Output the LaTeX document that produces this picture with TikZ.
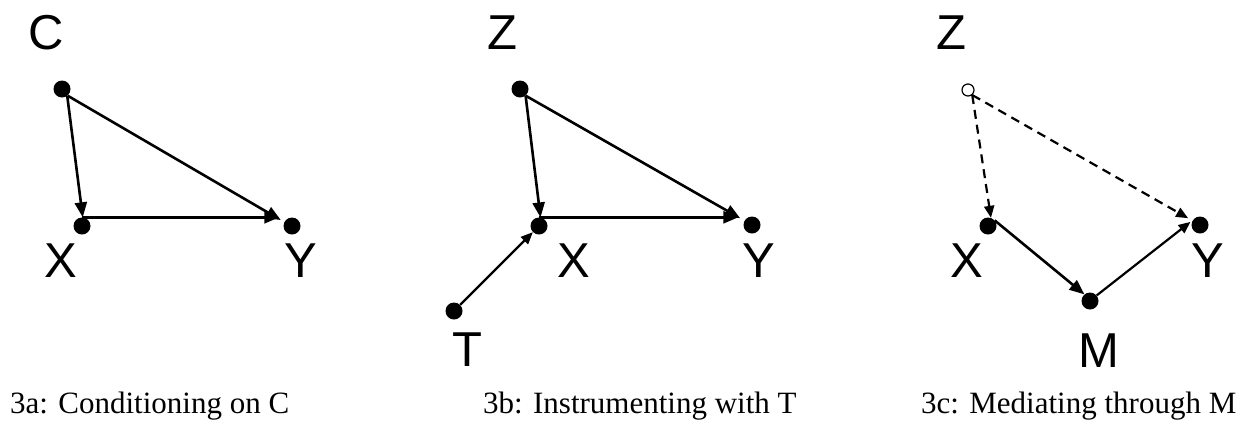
\documentclass[tikz,border=0pt]{standalone}
\usepackage{fontspec}
\setmainfont{Liberation Serif}
\newfontfamily\labfont{Liberation Sans}
\usetikzlibrary{arrows.meta}
\begin{document}
\begin{tikzpicture}[x=1pt,y=-1pt,
 dot/.style={circle,fill=black,inner sep=0pt,minimum size=17pt},
 odot/.style={circle,draw=black,line width=1.2pt,fill=white,inner sep=0pt,minimum size=12pt},
 lab/.style={font=\labfont\fontsize{49}{51}\selectfont,inner sep=0pt,anchor=base},
 captxt/.style={font=\fontsize{31}{34}\selectfont,inner sep=0pt,anchor=base west},
 arr/.style={line width=2.6pt,-{Triangle[length=15pt,width=12pt]}},
 sarr/.style={line width=2.2pt,-{Triangle[length=12pt,width=10pt]}},
 darr/.style={line width=2.2pt,dash pattern=on 9pt off 6pt,-{Triangle[length=12pt,width=10pt]}},
]
\useasboundingbox (0,0) rectangle (1249,421);
% panel a
\node[dot] (ca) at (62,89) {};
\node[dot] (xa) at (82,226) {};
\node[dot] (ya) at (292,226) {};
\node[lab] (lca) at (46,49) {C};
\node[lab] (lxa) at (61,277) {X};
\node[lab] (lya) at (301,277) {Y};
\draw[arr] (ca.-53) -- (xa.85);
\draw[arr,shorten >=4pt] (ca.-50) -- (ya.153);
\draw[arr,shorten >=4pt] (xa.north) -- (xa.north -| ya.west);
% panel b
\node[dot] (zb) at (520,89) {};
\node[dot] (xb) at (539,226) {};
\node[dot] (yb) at (752,225) {};
\node[dot] (tb) at (454,311) {};
\node[lab] (lzb) at (502,49) {Z};
\node[lab] (lxb) at (574,277) {X};
\node[lab] (lyb) at (759,277) {Y};
\node[lab] (ltb) at (467,366) {T};
\draw[arr] (zb.-50) -- (xb.80);
\draw[arr,shorten >=5pt] (zb.-50) -- (yb.150);
\draw[arr,shorten >=5pt] (xb.north) -- (xb.north -| yb.west);
\draw[sarr] (tb) -- (xb);
% panel c
\node[odot] (zc) at (968,90) {};
\node[dot] (xc) at (988,226) {};
\node[dot] (yc) at (1200,225) {};
\node[dot] (mc) at (1090,301) {};
\node[lab] (lzc) at (951,49) {Z};
\node[lab] (lxc) at (967,277) {X};
\node[lab] (lyc) at (1208,277) {Y};
\node[lab] (lmc) at (1099,367) {M};
\draw[darr] (zc.-50) -- (xc.70);
\draw[darr,shorten >=5pt] (zc.-50) -- (yc.150);
\draw[arr] (xc.40) -- (mc.130);
\draw[sarr,shorten >=3pt] (mc.40) -- (yc.145);
% captions
\node[captxt] (capa) at (10,413) {3a: Conditioning on C};
\node[captxt] (capb) at (483,413) {3b: Instrumenting with T};
\node[captxt] (capc) at (921,413) {3c: Mediating through M};
\end{tikzpicture}
\end{document}
